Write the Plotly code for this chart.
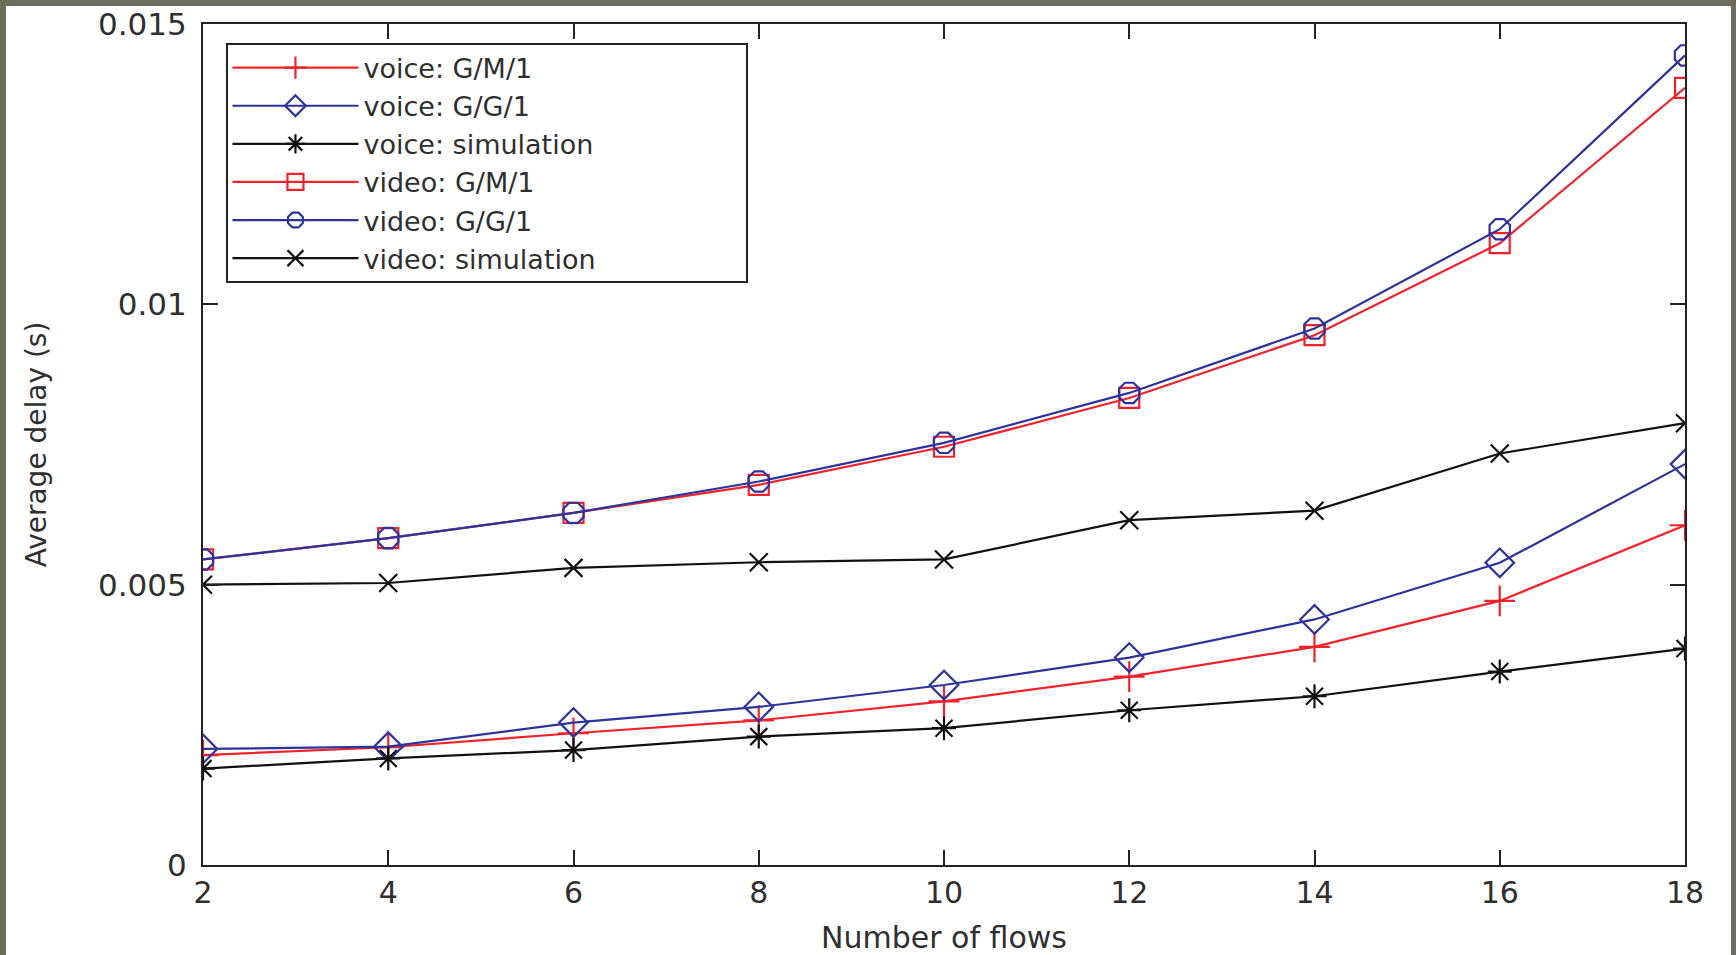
import plotly.graph_objects as go

flows = [2, 4, 6, 8, 10, 12, 14, 16, 18]

voice_gm1 = [0.00196, 0.00210, 0.00235, 0.00258, 0.00292, 0.00336, 0.00389, 0.00471, 0.00606]
voice_gg1 = [0.00207, 0.00211, 0.00254, 0.00282, 0.00321, 0.00370, 0.00438, 0.00539, 0.00715]
voice_sim = [0.00172, 0.00190, 0.00205, 0.00229, 0.00244, 0.00276, 0.00301, 0.00345, 0.00386]
video_gm1 = [0.00545, 0.00583, 0.00628, 0.00678, 0.00746, 0.00833, 0.00945, 0.01109, 0.01386]
video_gg1 = [0.00545, 0.00583, 0.00628, 0.00684, 0.00753, 0.00842, 0.00957, 0.01134, 0.01444]
video_sim = [0.00500, 0.00503, 0.00530, 0.00540, 0.00545, 0.00615, 0.00632, 0.00734, 0.00788]

y_ticks = [0, 0.005, 0.01, 0.015]
y_ticktext = ["0", "0.005", "0.01", "0.015"]

RED = "#f2222a"
BLUE = "#2c349c"
BLACK = "#111111"
BG = "#6d6d5e"

series = [
    ("voice: G/M/1", voice_gm1, RED, "cross-thin-open", 22),
    ("voice: G/G/1", voice_gg1, BLUE, "diamond-open", 22),
    ("voice: simulation", voice_sim, BLACK, "asterisk-open", 20),
    ("video: G/M/1", video_gm1, RED, "square-open", 20),
    ("video: G/G/1", video_gg1, BLUE, "octagon-open", 22),
    ("video: simulation", video_sim, BLACK, "x-thin-open", 18),
]

fig = go.Figure()
for name, vals, col, sym, sz in series:
    fig.add_trace(go.Scatter(
        x=flows, y=vals, name=name, mode="lines+markers",
        line=dict(color=col, width=2.2),
        marker=dict(symbol=sym, size=sz, color=col, line=dict(color=col, width=2.2)),
    ))

FONT = "DejaVu Sans"
TXT = "#2f2f2f"
PW, PH, L, T = 1482, 841, 203, 24


def px(x):
    return (x - L) / PW


def py(y):
    return (T + PH - y) / PH


fig.update_layout(
    width=1736, height=955,
    margin=dict(l=203, r=51, t=24, b=90, autoexpand=False),
    paper_bgcolor=BG,
    plot_bgcolor="rgba(0,0,0,0)",
    font=dict(family=FONT, color=TXT, size=30),
    showlegend=True,
    legend=dict(
        x=0.0165, y=0.9767, xanchor="left", yanchor="top",
        bgcolor="rgba(0,0,0,0)", borderwidth=0,
        font=dict(family=FONT, size=27, color=TXT),
        itemwidth=126, tracegroupgap=0,
    ),
    shapes=[
        dict(type="rect", xref="paper", yref="paper", layer="below",
             x0=px(6), x1=px(1731), y0=-0.2, y1=py(6),
             fillcolor="white", line=dict(width=0)),
        dict(type="rect", xref="paper", yref="paper", layer="below",
             x0=px(227), x1=px(747), y0=py(282), y1=py(44),
             fillcolor="white", line=dict(width=2, color="#222222")),
    ],
)
fig.update_xaxes(
    range=[2, 18], tickmode="array", tickvals=flows,
    ticks="inside", ticklen=15, tickwidth=1.5, tickcolor="#222222",
    showline=True, linecolor="#222222", linewidth=2, mirror="ticks",
    showgrid=False, zeroline=False, automargin=False,
    tickfont=dict(size=30, color=TXT),
    ticklabelstandoff=0,
    title=dict(text="Number of flows", font=dict(size=30, color=TXT), standoff=18),
)
fig.update_yaxes(
    range=[0, 0.015], tickmode="array", tickvals=y_ticks, ticktext=y_ticktext,
    ticks="inside", ticklen=15, tickwidth=1.5, tickcolor="#222222",
    showline=True, linecolor="#222222", linewidth=2, mirror="ticks",
    showgrid=False, zeroline=False, automargin=False,
    tickfont=dict(size=31, color=TXT),
    ticklabelstandoff=8,
    title=dict(text="Average delay (s)", font=dict(size=28, color=TXT), standoff=43),
)

fig.write_html(
    "out.html",
    config={"displayModeBar": False},
    post_script="document.body.style.margin='0';document.body.style.background='" + BG + "';",
)
